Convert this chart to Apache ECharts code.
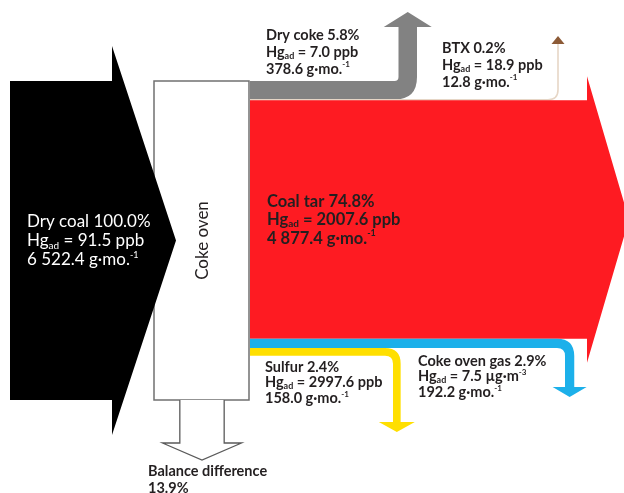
<!DOCTYPE html>
<html>
<head>
<meta charset="utf-8">
<script src="https://cdn.jsdelivr.net/npm/echarts@6/dist/echarts.min.js"></script>
<style>
html, body { margin: 0; padding: 0; background: #fff; }
#main { width: 624px; height: 493px; }
</style>
</head>
<body>
<div id="main"></div>
<script>
// Hg balance of the coke oven, shares of the input (%)
var inputName = 'Dry coal';
var inputPct = 100.0;
var inputHg = '91.5 ppb';
var inputMass = '6 522.4';
var nodeName = 'Coke oven';

// outputs, in the order they leave the oven (top to bottom)
var flowNames = ['Dry coke', 'BTX', 'Coal tar', 'Coke oven gas', 'Sulfur', 'Balance difference'];
var flowPct = [5.8, 0.2, 74.8, 2.9, 2.4, 13.9];
var flowHg = ['7.0 ppb', '18.9 ppb', '2007.6 ppb', '7.5 µg·m', '2997.6 ppb', ''];
var flowHgSup = ['', '', '', '-3', '', ''];
var flowMass = ['378.6', '12.8', '4 877.4', '192.2', '158.0', ''];

// styles
var flowColors = ['#828282', '#e6d6c6', '#fe1b22', '#1cb0ea', '#ffdf00', '#ffffff'];
var btxHeadColor = '#8c5a36';
var boxStroke = '#707070';

// layout of each pipe (pixels)
var boxLeft = 154, boxRight = 249;
var flowLayout = [
    { kind: 'up', shaftRight: 417, ri: 4, headHalf: 24, headBase: 27, tip: 12 },
    { kind: 'thin', turnX: 558, ri: 10, headHalf: 6.5, headBase: 44, tip: 36 },
    { kind: 'right', end: 587, over: 24, tipX: 629 },
    { kind: 'down', shaftLeft: 565, ri: 8, headHalf: 17, headBase: 387, tip: 397 },
    { kind: 'down', shaftLeft: 393, ri: 8, headHalf: 18, headBase: 422, tip: 432 },
    { kind: 'bottom', shaftBottom: 443, headHalf: 39.5, tip: 460 }
];
var labelPos = [
    { x: 266, y: 26.5, size: 14.5, lh: 17 },
    { x: 442, y: 39.5, size: 14.5, lh: 17 },
    { x: 267, y: 192, size: 16.5, lh: 18.5 },
    { x: 418, y: 353, size: 14.5, lh: 15.7 },
    { x: 265, y: 359, size: 14.5, lh: 15.7 },
    { x: 148, y: 462.5, size: 14.5, lh: 17 }
];

var FONT = 'Lato';

var flowStart = [];
var acc = 0;
for (var i = 0; i < flowPct.length; i++) {
    flowStart.push(acc);
    acc += flowPct[i];
}

function richStyles(size, lh, color, weight) {
    return {
        n: { fontSize: size, fontFamily: FONT, fontWeight: weight, fill: color, lineHeight: lh },
        sub: { fontSize: Math.round(size * 0.6), fontFamily: FONT, fontWeight: weight, fill: color, verticalAlign: 'bottom', lineHeight: 11 },
        sup: { fontSize: Math.round(size * 0.55), fontFamily: FONT, fontWeight: weight, fill: color, verticalAlign: 'top', lineHeight: 9 }
    };
}

function labelText(name, pct, hg, hgSup, mass) {
    var s = '{n|' + name + ' ' + pct.toFixed(1) + '%}';
    if (hg) s += '\n{n|Hg}{sub|ad}{n| = ' + hg + '}' + (hgSup ? '{sup|' + hgSup + '}' : '');
    if (mass) s += '\n{n|' + mass + ' g·mo.}{sup|-1}';
    return s;
}

function renderFlow(params, api) {
    var i = api.value(0);
    var L = flowLayout[i];
    var a = api.coord([0, api.value(1)])[1];
    var b = api.coord([0, api.value(1) + api.value(2)])[1];
    var t = b - a;
    var x0 = api.coord([boxRight + 1, 0])[0];
    var d;
    var children = [];

    if (L.kind === 'up') {
        var xr = L.shaftRight, xl = xr - t, ro = L.ri + t, cx = (xl + xr) / 2;
        d = 'M' + x0 + ',' + a + ' L' + (xl - L.ri) + ',' + a +
            ' Q' + xl + ',' + a + ' ' + xl + ',' + (a - L.ri) +
            ' L' + xl + ',' + L.headBase + ' L' + (cx - L.headHalf) + ',' + L.headBase +
            ' L' + cx + ',' + L.tip + ' L' + (cx + L.headHalf) + ',' + L.headBase +
            ' L' + xr + ',' + L.headBase + ' L' + xr + ',' + (b - ro) +
            ' Q' + xr + ',' + b + ' ' + (xr - ro) + ',' + b + ' L' + x0 + ',' + b + ' Z';
        children.push({ type: 'path', shape: { pathData: d }, style: { fill: flowColors[i] } });
    } else if (L.kind === 'thin') {
        var ym = (a + b) / 2, w = Math.max(t, 1.6);
        d = 'M' + x0 + ',' + ym + ' L' + (L.turnX - L.ri) + ',' + ym +
            ' Q' + L.turnX + ',' + ym + ' ' + L.turnX + ',' + (ym - L.ri) +
            ' L' + L.turnX + ',' + L.headBase;
        children.push({ type: 'path', shape: { pathData: d }, style: { fill: 'none', stroke: flowColors[i], lineWidth: w } });
        children.push({ type: 'polygon', shape: { points: [[L.turnX - L.headHalf, L.headBase], [L.turnX, L.tip], [L.turnX + L.headHalf, L.headBase]] }, style: { fill: btxHeadColor } });
    } else if (L.kind === 'right') {
        children.push({ type: 'polygon', shape: { points: [
            [x0, a], [L.end, a], [L.end, a - L.over], [L.tipX, (a + b) / 2],
            [L.end, b + L.over], [L.end, b], [x0, b]
        ] }, style: { fill: flowColors[i] } });
    } else if (L.kind === 'down') {
        var dl = L.shaftLeft, dr = dl + t, dro = L.ri + t, dc = (dl + dr) / 2;
        d = 'M' + x0 + ',' + a + ' L' + (dr - dro) + ',' + a +
            ' Q' + dr + ',' + a + ' ' + dr + ',' + (a + dro) +
            ' L' + dr + ',' + L.headBase + ' L' + (dc + L.headHalf) + ',' + L.headBase +
            ' L' + dc + ',' + L.tip + ' L' + (dc - L.headHalf) + ',' + L.headBase +
            ' L' + dl + ',' + L.headBase + ' L' + dl + ',' + (b + L.ri) +
            ' Q' + dl + ',' + b + ' ' + (dl - L.ri) + ',' + b + ' L' + x0 + ',' + b + ' Z';
        children.push({ type: 'path', shape: { pathData: d }, style: { fill: flowColors[i] } });
    } else if (L.kind === 'bottom') {
        // leaves through the bottom of the oven: width from the share
        var top = api.coord([0, 100])[1];
        var bc = (boxLeft + boxRight) / 2 + 0.5;
        var bl = bc - t / 2, br = bc + t / 2;
        d = 'M' + bl + ',' + top + ' L' + bl + ',' + L.shaftBottom + ' L' + (bc - L.headHalf) + ',' + L.shaftBottom +
            ' L' + bc + ',' + L.tip + ' L' + (bc + L.headHalf) + ',' + L.shaftBottom +
            ' L' + br + ',' + L.shaftBottom + ' L' + br + ',' + top;
        children.push({ type: 'path', shape: { pathData: d }, style: { fill: flowColors[i], stroke: '#5a5a5a', lineWidth: 1.3 } });
    }

    var P = labelPos[i];
    var txt = L.kind === 'bottom'
        ? '{n|' + flowNames[i] + '}\n{n|' + flowPct[i].toFixed(1) + '%}'
        : labelText(flowNames[i], flowPct[i], flowHg[i], flowHgSup[i], flowMass[i]);
    children.push({
        type: 'text', z2: 10,
        style: { x: P.x, y: P.y, text: txt, align: 'left', verticalAlign: 'top',
            rich: richStyles(P.size, P.lh, '#231f20', 'bold') }
    });
    return { type: 'group', children: children };
}

function renderInput(params, api) {
    var v = api.value(0);
    var yt = api.coord([0, 0])[1];
    var yb = api.coord([0, v])[1];
    var ym = (yt + yb) / 2;
    return {
        type: 'group',
        children: [
            { type: 'rect', shape: { x: boxLeft, y: yt, width: boxRight - boxLeft, height: yb - yt },
              style: { fill: '#fff', stroke: boxStroke, lineWidth: 1.5 } },
            { type: 'text', x: (boxLeft + boxRight) / 2 + 1, y: ym, rotation: Math.PI / 2,
              style: { text: nodeName, align: 'center', verticalAlign: 'middle',
                fontSize: 17, fontFamily: FONT, fontWeight: 400, fill: '#231f20' } },
            { type: 'polygon', shape: { points: [
                [10, yt], [112, yt], [112, yt - 35], [176, ym], [112, yb + 35], [112, yb], [10, yb]
            ] }, style: { fill: '#000' } },
            { type: 'text', z2: 10,
              style: { x: 27, y: 212.5, text: labelText(inputName, v, inputHg, '', inputMass),
                align: 'left', verticalAlign: 'top', rich: richStyles(17, 19, '#fff', 400) } }
        ]
    };
}

var chart = echarts.init(document.getElementById('main'));
chart.setOption({
    animation: false,
    grid: { left: 0, top: 81, width: 624, height: 319 },
    xAxis: { type: 'value', min: 0, max: 624, show: false },
    yAxis: { type: 'value', min: 0, max: 100, inverse: true, show: false },
    series: [
        {
            type: 'custom', clip: false, z: 1,
            renderItem: renderInput,
            data: [[inputPct]]
        },
        {
            type: 'custom', clip: false, z: 2,
            renderItem: renderFlow,
            data: flowPct.map(function (v, i) { return [i, flowStart[i], v]; })
        }
    ]
});
</script>
</body>
</html>
